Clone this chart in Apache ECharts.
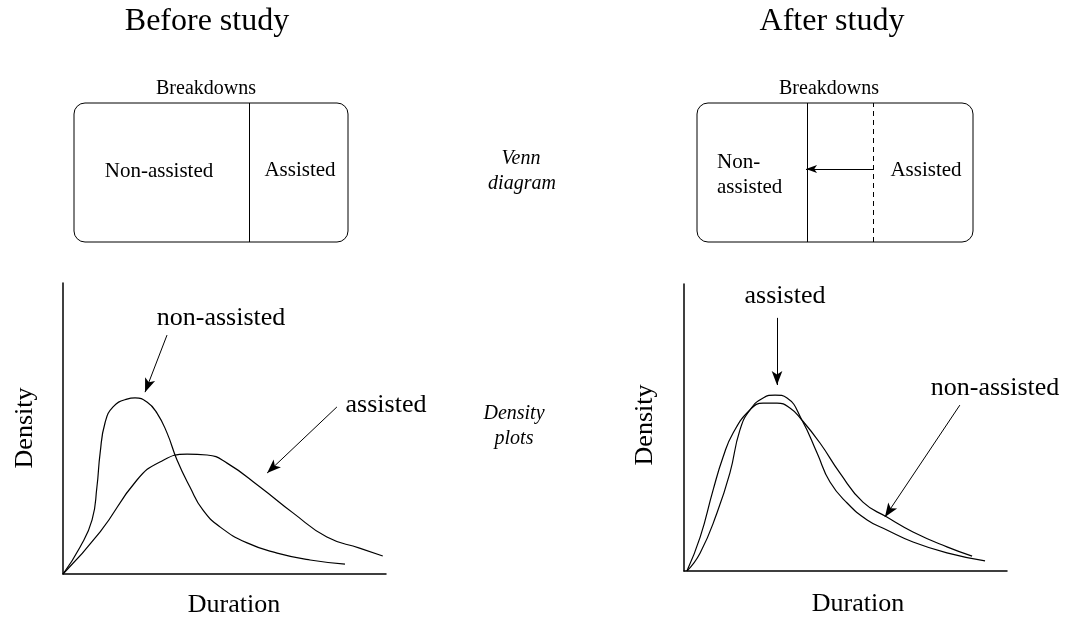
<!DOCTYPE html>
<html>
<head>
<meta charset="utf-8">
<script src="https://cdn.jsdelivr.net/npm/echarts@6/dist/echarts.min.js"></script>
<style>
  html, body { margin: 0; padding: 0; background: #fff; }
  #study_chart { width: 1065px; height: 617px; }
</style>
</head>
<body>
<div id="study_chart"></div>
<script>
// duration / density in % of each plot's axis length
let beforeNonX = [0, 5.3, 9.0, 10.5, 11.5, 13.0, 15.5, 19.8, 22.3, 26.0, 29.1, 32.2, 35.3, 39.3, 43.3, 48.6, 57.0, 66.3, 76.5, 87.3];
let beforeNonY = [0, 9.3, 18.6, 29.9, 41.6, 51.9, 57.4, 60.1, 60.5, 59.1, 55.3, 48.5, 39.2, 29.9, 22.0, 16.2, 10.7, 7.2, 4.8, 3.4];
let beforeAsX = [0, 11.5, 22.9, 30, 38.4, 44.6, 50.8, 61, 71.2, 81.7, 91.8, 99];
let beforeAsY = [0, 14.5, 32.3, 38.5, 41.2, 40.9, 38.1, 29.9, 21, 12.7, 8.9, 6.2];

let afterNonX = [0.9, 5, 9, 12.1, 15.2, 20.4, 24.5, 28.8, 32.8, 36.5, 42.1, 48.3, 55.4, 62.8, 70.9, 81.4, 89.2];
let afterNonY = [0, 11.8, 28.2, 39.7, 48.1, 56.1, 58.5, 58.5, 56.8, 52.6, 44.6, 34.1, 24, 18.8, 13.6, 8.4, 5.2];
let afterAsX = [0.9, 5, 10.2, 14.2, 17.3, 20.4, 24.5, 28.2, 31.9, 36.5, 41.2, 45.2, 50.5, 56.7, 62.8, 70.9, 81.4, 93.2];
let afterAsY = [0, 6.3, 20.2, 34.1, 49.1, 56.1, 60.3, 61.3, 60.3, 52.6, 41.1, 31, 23.7, 17.8, 14.3, 10.1, 6.3, 3.5];

// share of breakdowns that are non-assisted (Venn split)
let splitBefore = 0.639;
let splitAfter = 0.395;

let font = "'Liberation Serif', 'DejaVu Serif', serif";

// layout of the four panels
let plotL = { left: 63, top: 283, width: 323, height: 291 };
let plotR = { left: 684, top: 284, width: 323, height: 287 };
let vennL = { left: 74, top: 103, width: 274, height: 139 };
let vennR = { left: 697, top: 103, width: 276, height: 139 };

function pairs(xs, ys) {
  return xs.map((x, i) => [x, ys[i]]);
}

function plotAxis(idx) {
  return {
    type: "value",
    gridIndex: idx,
    min: 0,
    max: 100,
    axisLine: { show: true, onZero: false, lineStyle: { color: "#000", width: 1.5 } },
    axisTick: { show: false },
    axisLabel: { show: false },
    splitLine: { show: false },
  };
}

function vennAxis(idx) {
  return {
    type: "value",
    gridIndex: idx,
    min: 0,
    max: 1,
    show: false,
  };
}

function curve(idx, xs, ys) {
  return {
    type: "line",
    xAxisIndex: idx,
    yAxisIndex: idx,
    data: pairs(xs, ys),
    smooth: 0.5,
    showSymbol: false,
    silent: true,
    lineStyle: { color: "#000", width: 1.2 },
  };
}

function arrow(from, to) {
  return [
    { coord: from, symbol: "none" },
    { coord: to, symbol: "arrow" },
  ];
}

function txt(text, x, y, size, opts) {
  opts = opts || {};
  return {
    type: "text",
    x: x,
    y: y,
    rotation: opts.rotation || 0,
    style: {
      text: text,
      fill: "#000",
      font: (opts.italic ? "italic " : "") + size + "px " + font,
      align: opts.align || "center",
      verticalAlign: "middle",
    },
  };
}

function box(b) {
  return {
    type: "rect",
    shape: { x: b.left, y: b.top, width: b.width, height: b.height, r: 11 },
    style: { fill: "none", stroke: "#000", lineWidth: 1 },
    silent: true,
  };
}

let markBase = {
  silent: true,
  animation: false,
  symbolSize: [8, 14],
  label: { show: false },
  lineStyle: { color: "#000", width: 1, type: "solid" },
};

let chart = echarts.init(document.getElementById("study_chart"));

let option = {
  animation: false,
  grid: [
    Object.assign({}, plotL),
    Object.assign({}, plotR),
    Object.assign({}, vennL),
    Object.assign({}, vennR),
  ],
  xAxis: [plotAxis(0), plotAxis(1), vennAxis(2), vennAxis(3)],
  yAxis: [plotAxis(0), plotAxis(1), vennAxis(2), vennAxis(3)],
  series: [
    Object.assign(curve(0, beforeNonX, beforeNonY), {
      markLine: Object.assign({}, markBase, {
        data: [arrow([32.2, 82.1], [25.4, 62.5]), arrow([84.8, 57.4], [63.2, 34.7])],
      }),
    }),
    curve(0, beforeAsX, beforeAsY),
    Object.assign(curve(1, afterNonX, afterNonY), {
      markLine: Object.assign({}, markBase, {
        data: [arrow([28.8, 88.2], [28.8, 64.8]), arrow([85.4, 57.8], [62.2, 18.8])],
      }),
    }),
    curve(1, afterAsX, afterAsY),
    {
      type: "line",
      xAxisIndex: 2,
      yAxisIndex: 2,
      data: [],
      markLine: Object.assign({}, markBase, {
        symbol: "none",
        data: [{ xAxis: splitBefore }],
      }),
    },
    {
      type: "line",
      xAxisIndex: 3,
      yAxisIndex: 3,
      data: [],
      markLine: Object.assign({}, markBase, {
        symbol: "none",
        symbolSize: [6, 11],
        data: [
          { xAxis: splitAfter },
          { xAxis: splitBefore, lineStyle: { type: [5, 4] } },
          arrow([splitBefore, 0.525], [splitAfter, 0.525]),
        ],
      }),
    },
  ],
  graphic: [
    box(vennL),
    box(vennR),
    txt("Before study", 207, 22, 32),
    txt("After study", 832, 22, 32),
    txt("Breakdowns", 206, 89, 20),
    txt("Breakdowns", 829, 89, 20),
    txt("Non-assisted", 159, 171, 21),
    txt("Assisted", 300, 170, 21),
    txt("Non-", 717, 162, 21, { align: "left" }),
    txt("assisted", 717, 187, 21, { align: "left" }),
    txt("Assisted", 926, 170, 21),
    txt("Venn", 521, 159, 20, { italic: true }),
    txt("diagram", 522, 184, 20, { italic: true }),
    txt("Density", 514, 414, 20, { italic: true }),
    txt("plots", 514, 439, 20, { italic: true }),
    txt("non-assisted", 221, 318, 26),
    txt("assisted", 386, 405, 26),
    txt("assisted", 785, 296, 26),
    txt("non-assisted", 995, 388, 26),
    txt("Duration", 234, 605, 26),
    txt("Duration", 858, 604, 26),
    txt("Density", 25, 428, 26, { rotation: Math.PI / 2 }),
    txt("Density", 645, 425, 26, { rotation: Math.PI / 2 }),
  ],
};

chart.setOption(option, true);
</script>
</body>
</html>
